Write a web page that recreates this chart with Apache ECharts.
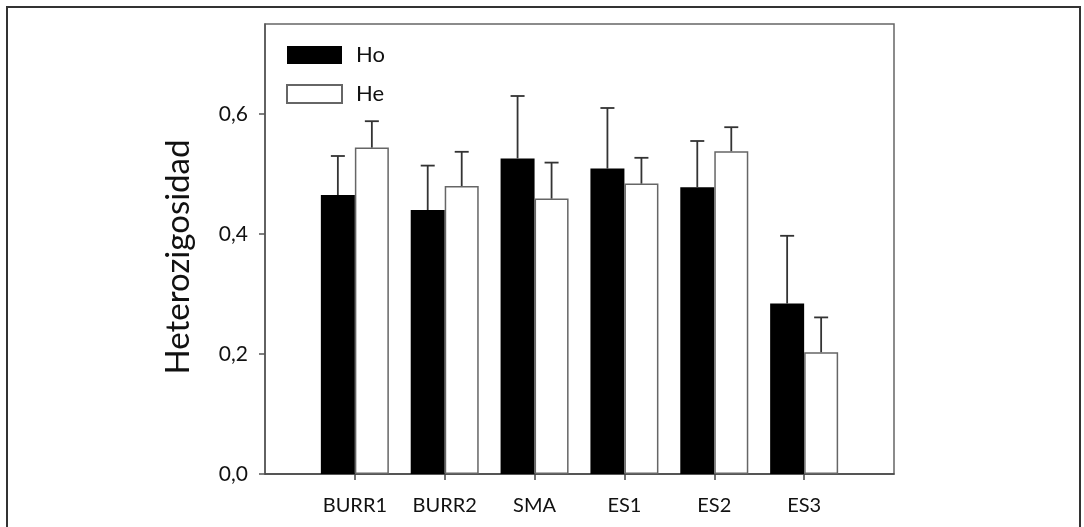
<!DOCTYPE html>
<html>
<head>
<meta charset="utf-8">
<title>Heterozigosidad</title>
<script src="https://cdn.jsdelivr.net/npm/echarts@6/dist/echarts.min.js"></script>
<style>
  html, body { margin: 0; padding: 0; background: #fff; }
  #main { width: 1084px; height: 527px; }
</style>
</head>
<body>
<div id="main"></div>
<script>
// poblaciones (las vacías dejan el hueco de los extremos del eje)
const categories = ['', 'BURR1', 'BURR2', 'SMA', 'ES1', 'ES2', 'ES3', ''];
// heterocigosidad observada y esperada
const hoValues = [0.465, 0.440, 0.526, 0.509, 0.478, 0.284];
const heValues = [0.544, 0.480, 0.459, 0.484, 0.538, 0.203];
// error (solo se dibuja hacia arriba)
const hoErrors = [0.065, 0.074, 0.104, 0.101, 0.077, 0.113];
const heErrors = [0.044, 0.057, 0.060, 0.043, 0.040, 0.058];
const yTicks = [0, 0.2, 0.4, 0.6];

const FONT = 'Lato';
const BAR_W = 34;

function pad(arr) {
    return ['-'].concat(arr, ['-']);
}

function errData(vals, errs) {
    return vals.map((v, i) => [i + 1, v, v + errs[i]]);
}

function errorBars(offset) {
    return function (params, api) {
        const base = api.coord([api.value(0), api.value(1)]);
        const top = api.coord([api.value(0), api.value(2)]);
        const x = base[0] + offset;
        const style = { stroke: '#333', lineWidth: 1.8 };
        return {
            type: 'group',
            children: [
                { type: 'line', shape: { x1: x, y1: base[1], x2: x, y2: top[1] }, style: style },
                { type: 'line', shape: { x1: x - 7, y1: top[1], x2: x + 7, y2: top[1] }, style: style }
            ]
        };
    };
}

let myChart = echarts.init(document.getElementById('main'));
myChart.setOption({
    animation: false,
    backgroundColor: '#fff',
    textStyle: { fontFamily: FONT },
    grid: {
        left: 265, right: 190, top: 24, bottom: 53,
        show: true, borderColor: '#666', borderWidth: 1.5
    },
    graphic: [{
        type: 'polyline',
        shape: { points: [[7, 540], [7, 7], [1080, 7], [1080, 540]] },
        style: { stroke: '#333', lineWidth: 2, fill: null }
    }],
    legend: {
        orient: 'vertical',
        left: 286, top: 44, padding: 0,
        itemWidth: 55, itemHeight: 18, itemGap: 17,
        icon: 'rect',
        textStyle: {
            fontFamily: FONT, fontSize: 22, color: '#111',
            lineHeight: 18, padding: [0, 0, 0, 9]
        },
        data: ['Ho', 'He']
    },
    xAxis: {
        type: 'category',
        data: categories,
        boundaryGap: false,
        axisLine: { lineStyle: { color: '#444', width: 1.5 } },
        axisTick: {
            length: 6,
            interval: (i, v) => v !== '',
            lineStyle: { color: '#444', width: 1.5 }
        },
        axisLabel: {
            interval: 0, margin: 22,
            fontFamily: FONT, fontSize: 20, color: '#111'
        },
        splitLine: { show: false }
    },
    yAxis: {
        type: 'value',
        min: 0, max: 0.75, interval: 0.2,
        name: 'Heterozigosidad',
        nameLocation: 'middle',
        nameGap: 70,
        nameTextStyle: {
            fontFamily: FONT, fontSize: 33, color: '#111',
            padding: [0, 16, 0, 0]
        },
        axisLine: { show: true, lineStyle: { color: '#555', width: 1.5 } },
        axisTick: {
            show: true, length: 6, customValues: yTicks,
            lineStyle: { color: '#555', width: 1.5 }
        },
        axisLabel: {
            customValues: yTicks, margin: 17,
            fontFamily: FONT, fontSize: 21, color: '#111',
            formatter: v => v.toFixed(1).replace('.', ',')
        },
        splitLine: { show: false }
    },
    series: [
        {
            name: 'Ho', type: 'bar',
            data: pad(hoValues),
            barWidth: BAR_W, barGap: '0%',
            itemStyle: { color: '#000' }
        },
        {
            name: 'He', type: 'bar',
            data: pad(heValues),
            barWidth: BAR_W, barGap: '0%',
            itemStyle: { color: '#fff', borderColor: '#666', borderWidth: 1.5 }
        },
        {
            type: 'custom', name: 'Ho err', z: 5,
            data: errData(hoValues, hoErrors),
            renderItem: errorBars(-BAR_W / 2)
        },
        {
            type: 'custom', name: 'He err', z: 5,
            data: errData(heValues, heErrors),
            renderItem: errorBars(BAR_W / 2)
        }
    ]
});
window.onresize = function () {
    myChart.resize();
};
</script>
</body>
</html>
